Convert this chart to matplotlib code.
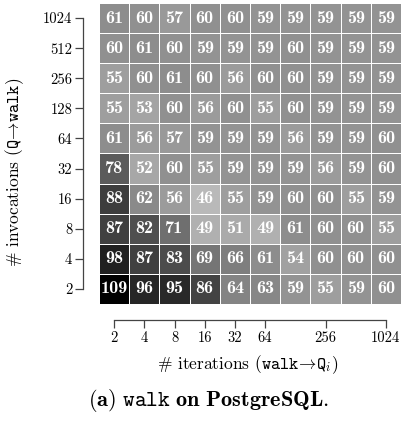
import numpy as np
import matplotlib
matplotlib.use("Agg")
from matplotlib import pyplot as plt

plt.rcParams['font.family'] = 'serif'
plt.rcParams['font.serif'] = ['cmr10']
plt.rcParams['mathtext.fontset'] = 'cm'
plt.rcParams['axes.unicode_minus'] = False

# iterations (columns) and invocations (rows, bottom to top)
iterations = [2, 4, 8, 16, 32, 64, 128, 256, 512, 1024]
invocations = [2, 4, 8, 16, 32, 64, 128, 256, 512, 1024]
xtick_labels = ['2', '4', '8', '16', '32', '64', '', '256', '', '1024']

row_2 = [109, 96, 95, 86, 64, 63, 59, 55, 59, 60]
row_4 = [98, 87, 83, 69, 66, 61, 54, 60, 60, 60]
row_8 = [87, 82, 71, 49, 51, 49, 61, 60, 60, 55]
row_16 = [88, 62, 56, 46, 55, 59, 60, 60, 55, 59]
row_32 = [78, 52, 60, 55, 59, 59, 59, 56, 59, 60]
row_64 = [61, 56, 57, 59, 59, 59, 56, 59, 59, 60]
row_128 = [55, 53, 60, 56, 60, 55, 60, 59, 59, 59]
row_256 = [55, 60, 61, 60, 56, 60, 60, 59, 59, 59]
row_512 = [60, 61, 60, 59, 59, 59, 60, 59, 59, 59]
row_1024 = [61, 60, 57, 60, 60, 59, 59, 59, 59, 59]

data = np.array([row_2, row_4, row_8, row_16, row_32, row_64,
                 row_128, row_256, row_512, row_1024])

W, H = 404, 422
fig = plt.figure(figsize=(W / 100, H / 100), dpi=100)
ax = fig.add_axes([99 / W, (H - 304) / H, 302 / W, 301 / H])

n = len(iterations)
ax.pcolormesh(np.arange(n + 1) - 0.5, np.arange(n + 1) - 0.5, data,
              cmap='gray_r', vmin=22, vmax=109, edgecolors='white', linewidth=0.6)
for i in range(n):
    for j in range(n):
        ax.text(j, i, str(data[i, j]), ha='center', va='center',
                color='white', fontsize=13, family='cmb10')

ax.set_xlim(-0.5, n - 0.5)
ax.set_ylim(-0.5, n - 0.5)
ax.set_xticks(range(n))
ax.set_xticklabels(xtick_labels)
ax.set_yticks(range(n))
ax.set_yticklabels([str(v) for v in invocations])

for s in ['top', 'right']:
    ax.spines[s].set_visible(False)
ax.spines['left'].set_position(('outward', 11.5))
ax.spines['bottom'].set_position(('outward', 11.5))
ax.spines['left'].set_bounds(0, n - 1)
ax.spines['bottom'].set_bounds(0, n - 1)
for s in ['left', 'bottom']:
    ax.spines[s].set_color('#444444')
    ax.spines[s].set_linewidth(0.9)
ax.tick_params(axis='both', length=5.8, width=0.9, color='#444444',
               labelsize=10.5, pad=2)
xt = ax.get_xaxis().get_major_ticks()
for k, lab in enumerate(xtick_labels):
    if lab == '':
        xt[k].tick1line.set_visible(False)

fig.text(248 / W, 1 - 365 / H,
         r'$\#$ iterations ($\mathtt{walk}\!\rightarrow\!\mathtt{Q}_i$)',
         ha='center', va='center', fontsize=12.5)
fig.text(15 / W, 1 - 172 / H,
         r'$\#$ invocations ($\mathtt{Q}\!\rightarrow\!\mathtt{walk}$)',
         ha='center', va='center', fontsize=12.5, rotation=90)
fig.text(209 / W, 1 - 401 / H,
         r'$\mathbf{(a)\ }\mathtt{walk}\mathbf{\ on\ PostgreSQL.}$',
         ha='center', va='center', fontsize=16)

fig.savefig('out.png', dpi=100)
